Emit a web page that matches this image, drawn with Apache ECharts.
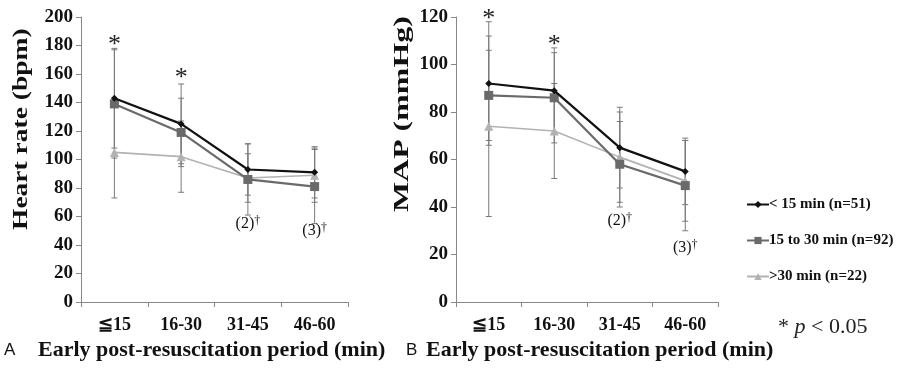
<!DOCTYPE html>
<html>
<head>
<meta charset="utf-8">
<script src="https://cdn.jsdelivr.net/npm/echarts@6/dist/echarts.min.js"></script>
<style>
  html, body { margin: 0; padding: 0; background: #fff; }
  #chart { width: 905px; height: 368px; }
</style>
</head>
<body>
<div id="chart"></div>
<script>
const categories = ['≦15', '16-30', '31-45', '46-60'];
const groupNames = ['< 15 min (n=51)', '15 to 30 min (n=92)', '>30 min (n=22)'];

// heart rate (bpm), mean and SD
const hrLt15 = [143, 125, 93, 91];
const hrLt15Sd = [35, 28, 18, 18];
const hr15to30 = [139, 119, 86, 81];
const hr15to30Sd = [38, 24, 25, 26];
const hrGt30 = [105, 102, 87, 89];
const hrGt30Sd = [32, 25, 17, 19];

// MAP (mmHg), mean and SD
const mapLt15 = [92, 89, 65, 55];
const mapLt15Sd = [26, 18, 17, 14];
const map15to30 = [87, 86, 58, 49];
const map15to30Sd = [19, 19, 18, 19];
const mapGt30 = [74, 72, 61, 51];
const mapGt30Sd = [38, 20, 19, 17];

// annotations: [category index, value, kind]
const notesA = [[0, 180, '*'], [1, 157, '*'], [2, 55, '(2)'], [3, 50, '(3)']];
const notesB = [[0, 119, '*'], [1, 108, '*'], [2, 34, '(2)'], [3, 23, '(3)']];

const serif = '"Liberation Serif", "Times New Roman", serif';
const colors = ['#111111', '#6a6a6a', '#b2b2b2'];
const symbols = ['diamond', 'rect', 'triangle'];
const symSizes = [7, 9, 9];
const lineWidths = [2.2, 2.2, 1.6];

function errorBars(means, sds, ax) {
  const data = [];
  means.forEach((arr, s) => {
    arr.forEach((m, i) => data.push([i, m - sds[s][i], m + sds[s][i]]));
  });
  return {
    type: 'custom',
    xAxisIndex: ax, yAxisIndex: ax,
    silent: true, z: 1,
    renderItem: function (params, api) {
      const lo = api.coord([api.value(0), api.value(1)]);
      const hi = api.coord([api.value(0), api.value(2)]);
      const w = 3;
      const st = { stroke: '#7a7a7a', lineWidth: 1 };
      return {
        type: 'group',
        children: [
          { type: 'line', shape: { x1: lo[0], y1: lo[1], x2: hi[0], y2: hi[1] }, style: st },
          { type: 'line', shape: { x1: lo[0] - w, y1: lo[1], x2: lo[0] + w, y2: lo[1] }, style: st },
          { type: 'line', shape: { x1: hi[0] - w, y1: hi[1], x2: hi[0] + w, y2: hi[1] }, style: st }
        ]
      };
    },
    data: data
  };
}

function lines(means, ax) {
  return means.map((arr, s) => ({
    name: groupNames[s],
    type: 'line',
    xAxisIndex: ax, yAxisIndex: ax,
    z: 3 - s + 2,
    symbol: symbols[s],
    symbolSize: symSizes[s],
    itemStyle: { color: colors[s] },
    lineStyle: { color: colors[s], width: lineWidths[s] },
    data: arr
  }));
}

function notes(list, ax) {
  return {
    type: 'custom',
    xAxisIndex: ax, yAxisIndex: ax,
    silent: true, clip: false, z: 10,
    renderItem: function (params, api) {
      const p = api.coord([api.value(0), api.value(1)]);
      const kind = list[params.dataIndex][2];
      if (kind === '*') {
        return { type: 'text', x: p[0], y: p[1],
          style: { text: '*', font: '26px ' + serif, fill: '#222', align: 'center', verticalAlign: 'middle' } };
      }
      return { type: 'text', x: p[0], y: p[1],
        style: {
          text: kind + '{s|†}', align: 'center', verticalAlign: 'middle',
          font: '16px ' + serif, fill: '#111',
          rich: { s: { fontFamily: serif, fontSize: 12, fill: '#111', verticalAlign: 'top', padding: [0, 0, 6, 0] } }
        } };
    },
    data: list.map(d => [d[0], d[1]])
  };
}

function xAxis(ax) {
  return {
    type: 'category', gridIndex: ax, data: categories,
    axisLine: { lineStyle: { color: '#888', width: 1 } },
    axisTick: { show: true, length: 5, lineStyle: { color: '#888' } },
    axisLabel: { fontFamily: serif, fontWeight: 'bold', fontSize: 18, color: '#111', margin: 14 }
  };
}

function yAxis(ax, max) {
  return {
    type: 'value', gridIndex: ax, min: 0, max: max, interval: 20,
    axisLine: { show: true, lineStyle: { color: '#888', width: 1 } },
    axisTick: { show: true, length: 5, lineStyle: { color: '#888' } },
    splitLine: { show: false },
    axisLabel: { fontFamily: serif, fontWeight: 'bold', fontSize: 19, color: '#111', margin: 8 }
  };
}

const chart = echarts.init(document.getElementById('chart'));
chart.setOption({
  backgroundColor: '#fff',
  animation: false,
  grid: [
    { left: 81, top: 17, width: 267, height: 285 },
    { left: 456, top: 17, width: 262, height: 285 }
  ],
  xAxis: [xAxis(0), xAxis(1)],
  yAxis: [yAxis(0, 200), yAxis(1, 120)],
  legend: {
    orient: 'vertical', left: 741, top: 192, itemGap: 21,
    itemWidth: 22, itemHeight: 9,
    data: groupNames,
    textStyle: { fontFamily: serif, fontWeight: 'bold', fontSize: 15, color: '#111', padding: [0, 0, 0, -5] }
  },
  graphic: [
    { type: 'text', x: 10, y: 230, rotation: Math.PI / 2, scaleX: 1.25,
      style: { text: 'Heart rate (bpm)', font: 'bold 22px ' + serif, fill: '#111' } },
    { type: 'text', x: 391, y: 212, rotation: Math.PI / 2, scaleX: 1.45,
      style: { text: 'MAP (mmHg)', font: 'bold 22px ' + serif, fill: '#111' } },
    { type: 'text', x: 4, y: 342,
      style: { text: 'A', font: '17px "Liberation Sans", Arial, sans-serif', fill: '#111' } },
    { type: 'text', x: 38, y: 339,
      style: { text: 'Early post-resuscitation period (min)', font: 'bold 22px ' + serif, fill: '#111' } },
    { type: 'text', x: 406, y: 342,
      style: { text: 'B', font: '17px "Liberation Sans", Arial, sans-serif', fill: '#111' } },
    { type: 'text', x: 426, y: 339,
      style: { text: 'Early post-resuscitation period (min)', font: 'bold 22px ' + serif, fill: '#111' } },
    { type: 'text', x: 778, y: 316,
      style: { rich: { a: { fontFamily: serif, fontSize: 22, fill: '#222' }, i: { fontFamily: serif, fontStyle: 'italic', fontSize: 22, fill: '#222' } },
        text: '{a|* }{i|p}{a| < 0.05}' } }
  ],
  series: [
    errorBars([hrLt15, hr15to30, hrGt30], [hrLt15Sd, hr15to30Sd, hrGt30Sd], 0),
    errorBars([mapLt15, map15to30, mapGt30], [mapLt15Sd, map15to30Sd, mapGt30Sd], 1),
    ...lines([hrLt15, hr15to30, hrGt30], 0),
    ...lines([mapLt15, map15to30, mapGt30], 1),
    notes(notesA, 0),
    notes(notesB, 1)
  ]
});
</script>
</body>
</html>
